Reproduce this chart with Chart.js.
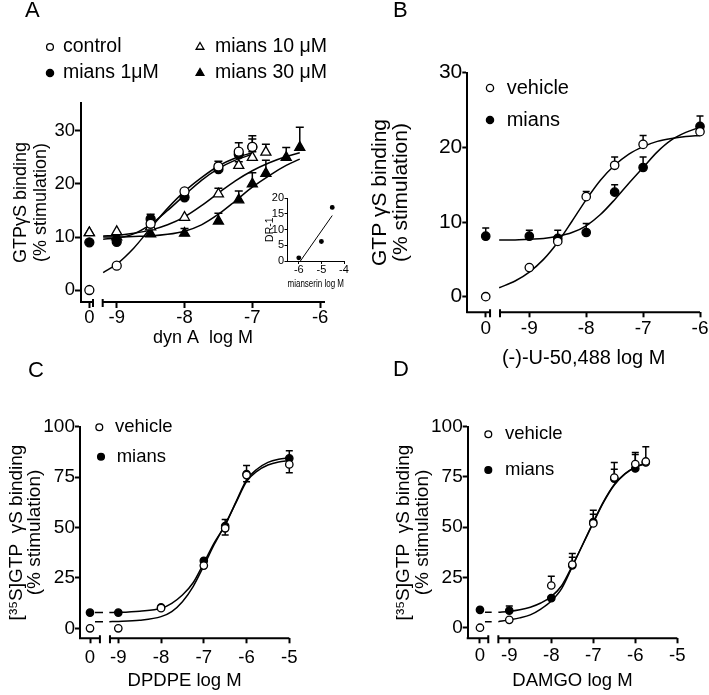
<!DOCTYPE html>
<html>
<head>
<meta charset="utf-8">
<script src="https://cdn.jsdelivr.net/npm/chart.js@4.4.1/dist/chart.umd.min.js"></script>
<style>
  html, body { margin: 0; padding: 0; background: #fff; }
  #fig { position: relative; width: 709px; height: 695px; overflow: hidden; }
  #fig canvas { position: absolute; }
  .lbl { position: absolute; font: 22px Arial, "Liberation Sans", sans-serif; line-height: 22px; color: #000; }
</style>
</head>
<body>
<div id="fig">
  <canvas id="cC" width="355" height="350" style="left:0;top:345px"></canvas>
  <canvas id="cD" width="354" height="350" style="left:355px;top:345px"></canvas>
  <canvas id="cA" width="355" height="355" style="left:0;top:0"></canvas>
  <canvas id="cB" width="354" height="375" style="left:355px;top:0"></canvas>
  <canvas id="cIn" width="115" height="110" style="left:240px;top:185px"></canvas>
  <div class="lbl" style="left:25px;top:-1px">A</div>
  <div class="lbl" style="left:393px;top:-1px">B</div>
  <div class="lbl" style="left:28px;top:359px">C</div>
  <div class="lbl" style="left:393px;top:358px">D</div>
</div>
<script>
// ---- panel A: dynorphin A, mianserin 0/1/10/30 uM ----
const dosesA   = [0, -9, -8.5, -8, -7.5, -7.2, -7];
const dosesA10 = [0, -9, -8.5, -8, -7.5, -7.2, -7, -6.8];
const dosesA30 = [0, -9, -8.5, -8, -7.5, -7.2, -7, -6.8, -6.5, -6.3];
const controlA    = [0, 4.6, 12.5, 18.6, 23.3, 26.1, 27.0];
const controlErrA = [0, 0, 0, 0, 1.0, 1.7, 1.5];
const mians1A     = [9.0, 9.1, 13.4, 17.5, 22.8, 25.6, 27.0];
const mians1ErrA  = [0, 0, 0.9, 0.5, 1.0, 0.8, 2.1];
const mians10A    = [10.8, 11.0, 11.9, 13.7, 18.1, 23.5, 25.0, 26.0];
const mians10ErrA = [0, 0, 0, 0, 1.1, 0.7, 1.1, 1.5];
const mians30A    = [10.8, 10.0, 10.6, 10.7, 13.0, 17.0, 20.0, 22.0, 25.0, 26.9];
const mians30ErrA = [0, 0, 0, 0.9, 1.5, 1.7, 2.1, 2.5, 1.9, 3.8];
const fitXA  = [-9.2, -9, -8.75, -8.5, -8.25, -8, -7.75, -7.5, -7.25, -7];
const fitXA2 = [-9.2, -9, -8.75, -8.5, -8.25, -8, -7.75, -7.5, -7.25, -7, -6.75, -6.5, -6.3];
const fitControlA = [3.3, 4.9, 7.9, 11.7, 15.4, 18.6, 21.2, 23.4, 24.9, 25.9];
const fitMians1A  = [9.6, 9.8, 10.6, 12.4, 15.0, 17.9, 20.7, 22.9, 24.5, 25.6];
const fitMians10A = [10.2, 10.3, 10.7, 11.3, 12.3, 13.8, 15.9, 18.3, 20.6, 22.5, 24.0, 25.2, 25.9];
const fitMians30A = [10.0, 10.0, 10.1, 10.2, 10.5, 11.1, 12.3, 14.3, 16.8, 19.4, 21.6, 23.5, 24.7];

// inset: Schild plot
const insetX  = [-6, -5, -4.52];
const insetDR = [1.0, 6.2, 17.1];
const insetLineX = [-5.93, -4.52];
const insetLineY = [0, 14.5];

// ---- panel B: (-)-U-50,488 ----
const dosesB      = [0, -9, -8.5, -8, -7.5, -7, -6];
const vehicleB    = [0, 3.9, 7.4, 13.4, 17.6, 20.4, 22.1];
const vehicleErrB = [0, 0, 0, 0.7, 1.1, 1.2, 0];
const miansB      = [8.1, 8.1, 7.8, 8.6, 14.0, 17.3, 22.8];
const miansErrB   = [1.1, 0.8, 1.1, 1.2, 1.0, 1.4, 1.4];
const fitXB       = [-9.53, -9.25, -9, -8.75, -8.5, -8.25, -8, -7.75, -7.5, -7.25, -7, -6.75, -6.5, -6.25, -6];
const fitVehicleB = [1.2, 2.1, 3.3, 5.0, 7.3, 10.1, 13.0, 15.6, 17.6, 19.1, 20.1, 20.8, 21.2, 21.45, 21.6];
const fitMiansB   = [7.6, 7.6, 7.7, 7.8, 8.1, 8.6, 9.5, 11.0, 13.0, 15.2, 17.3, 19.4, 21.0, 22.0, 22.7];

// ---- panel C: DPDPE ----
const dosesC      = [0, -9, -8, -7, -6.5, -6, -5];
const vehicleC    = [0, 0, 10.0, 31.1, 49.6, 76.0, 81.3];
const vehicleErrC = [0, 0, 0, 0, 3.3, 3.3, 4.1];   // drawn downwards
const miansC      = [7.8, 7.8, 10.4, 33.5, 50.7, 76.5, 84.3];
const miansErrC   = [0, 0, 0, 0, 3.3, 4.2, 3.8];
const fitXC       = [-9.21, -9, -8.5, -8, -7.75, -7.5, -7.25, -7, -6.75, -6.5, -6.25, -6, -5.75, -5.5, -5.25, -5];
const fitVehicleC = [3.3, 3.4, 4.0, 5.8, 8.3, 13.2, 20.7, 31.0, 41.8, 51.6, 62.2, 72.8, 78.0, 81.0, 82.5, 83.1];
const fitMiansC   = [7.8, 7.9, 8.5, 9.9, 12.4, 16.5, 22.6, 32.4, 42.6, 51.2, 62.6, 73.6, 79.0, 82.3, 83.9, 84.6];
const stubXC      = [-9.545, -9.358];

// ---- panel D: DAMGO ----
const dosesD      = [0, -9, -8, -7.5, -7, -6.5, -6, -5.75];
const vehicleD    = [0, 3.9, 21.0, 31.4, 51.9, 74.7, 81.4, 82.7];
const vehicleErrD = [0, 0, 4.6, 5.5, 6.5, 7.5, 5.8, 7.3];
const miansD      = [8.9, 8.5, 14.7, 31.0, 52.5, 74.2, 79.2, 82.2];
const miansErrD   = [0, 2.3, 1.0, 4.0, 4.0, 4.6, 7.0, 1.0];
const fitXD       = [-9.26, -9, -8.75, -8.5, -8.25, -8, -7.75, -7.5, -7.25, -7, -6.75, -6.5, -6.25, -6, -5.75];
const fitVehicleD = [3.0, 3.9, 4.9, 6.4, 9.3, 13.3, 19.6, 30.4, 41.5, 52.6, 63.0, 71.3, 76.6, 79.9, 81.8];
const fitMiansD   = [7.7, 8.1, 8.9, 10.2, 12.3, 15.5, 21.0, 30.8, 41.4, 52.2, 62.6, 71.0, 76.4, 79.8, 81.8];
const stubXD      = [-9.579, -9.419];

const FONT = 'Arial, "Liberation Sans", Helvetica, sans-serif';
Chart.defaults.font.family = FONT;
Chart.defaults.color = '#000';

// x-axis with a gap between the "0" dose and the log range
const axisBreak = {
  id: 'axisBreak',
  afterDatasetsDraw(chart, args, o) {
    if (!o || !o.at) return;
    const { ctx, chartArea: a, scales: { x } } = chart;
    const y = a.bottom, l = x.getPixelForValue(o.at[0]), r = x.getPixelForValue(o.at[1]);
    ctx.save();
    ctx.strokeStyle = '#000';
    ctx.lineWidth = o.width;
    ctx.beginPath();
    ctx.moveTo(a.left - o.width / 2, y); ctx.lineTo(l, y);
    ctx.moveTo(r, y); ctx.lineTo(a.right, y);
    ctx.moveTo(l, y - 3); ctx.lineTo(l, y + 5);
    ctx.moveTo(r, y - 3); ctx.lineTo(r, y + 5);
    ctx.stroke();
    ctx.restore();
  }
};

// upper / lower SEM whiskers, drawn under the symbols
const errBars = {
  id: 'errBars',
  beforeDatasetsDraw(chart, args, o) {
    const { ctx, scales: { y } } = chart;
    ctx.save();
    ctx.strokeStyle = '#000';
    ctx.lineWidth = 1.5;
    chart.data.datasets.forEach((ds, i) => {
      if (!ds.errUp && !ds.errDown) return;
      chart.getDatasetMeta(i).data.forEach((pt, j) => {
        const v = ds.data[j].y;
        [[ds.errUp, 1], [ds.errDown, -1]].forEach(([arr, s]) => {
          const e = arr && arr[j];
          if (!e) return;
          const yy = y.getPixelForValue(v + s * e);
          ctx.beginPath();
          ctx.moveTo(pt.x, pt.y); ctx.lineTo(pt.x, yy);
          ctx.moveTo(pt.x - o.cap, yy); ctx.lineTo(pt.x + o.cap, yy);
          ctx.stroke();
        });
      });
    });
    ctx.restore();
  }
};

// symbol keys placed where the original figure has them
const keyPlugin = {
  id: 'key',
  afterDatasetsDraw(chart, args, o) {
    if (!o || !o.items) return;
    const ctx = chart.ctx;
    ctx.save();
    ctx.font = o.size + 'px ' + FONT;
    ctx.textBaseline = 'middle';
    ctx.textAlign = 'left';
    o.items.forEach(it => {
      const ds = chart.data.datasets[it.ds];
      ctx.fillStyle = ds.pointBackgroundColor;
      ctx.strokeStyle = '#000';
      ctx.lineWidth = ds.pointBorderWidth;
      Chart.helpers.drawPoint(ctx, { pointStyle: ds.pointStyle, radius: it.r, borderWidth: ds.pointBorderWidth, rotation: 0 }, it.x, it.y);
      ctx.fillStyle = '#000';
      ctx.fillText(ds.label, it.tx, it.y);
    });
    ctx.restore();
  }
};

Chart.register(axisBreak, errBars, keyPlugin);

function pts(doses, vals, zero) {
  return doses.map((d, i) => ({ x: d === 0 ? zero : d, y: vals[i] }));
}
function xy(xs, ys) {
  return xs.map((x, i) => ({ x, y: ys[i] }));
}
function symbols(label, data, style, filled, r, errUp, errDown, order) {
  return {
    label, data, errUp, errDown, order: order === undefined ? 1 : order, showLine: false, clip: false,
    pointStyle: style, pointRadius: r, pointBorderWidth: 1.3,
    pointBackgroundColor: filled ? '#000' : '#fff', pointBorderColor: '#000'
  };
}
function fit(data) {
  return {
    label: '', data, order: 2, showLine: true, pointRadius: 0,
    borderColor: '#000', borderWidth: 1.5, cubicInterpolationMode: 'monotone'
  };
}

function panel(id, g, datasets) {
  return new Chart(document.getElementById(id), {
    type: 'scatter',
    data: { datasets },
    options: {
      responsive: false,
      animation: false,
      events: [],
      layout: { padding: { left: 0, top: g.top, right: g.right, bottom: 0 } },
      plugins: {
        legend: { display: false },
        tooltip: { enabled: false },
        axisBreak: g.brk ? { at: g.brk, width: g.lw } : false,
        errBars: { cap: g.cap || 3.5 },
        key: g.key || false
      },
      scales: {
        x: {
          type: 'linear', min: g.xMin, max: g.xMax,
          afterBuildTicks: s => { s.ticks = g.xTicks.map(v => ({ value: v })); },
          afterFit: s => { s.height = g.xH; s.paddingLeft = 0; s.paddingRight = 0; },
          ticks: {
            autoSkip: false, maxRotation: 0, padding: g.xPad,
            font: { size: g.xFont, lineHeight: 1 },
            callback: v => (g.zero !== undefined && Math.abs(v - g.zero) < 1e-6) ? '0' : String(v)
          },
          grid: { display: true, drawOnChartArea: false, drawTicks: true, tickLength: g.tick, tickWidth: g.lw, tickColor: '#000', color: '#000' },
          border: { display: !g.brk, color: '#000', width: g.lw },
          title: { display: true, text: g.xTitle, font: { size: g.xtFont, lineHeight: 1 }, padding: { top: 0, bottom: g.xtPad } }
        },
        y: {
          type: 'linear', min: g.yMin, max: g.yMax,
          afterBuildTicks: s => { s.ticks = g.yTicks.map(v => ({ value: v })); },
          afterFit: s => { s.width = g.yW; },
          ticks: { padding: g.yPad, font: { size: g.yFont, lineHeight: 1 }, callback: v => String(v) },
          grid: { display: true, drawOnChartArea: false, drawTicks: true, tickLength: g.tick, tickWidth: g.lw, tickColor: '#000', color: '#000' },
          border: { display: true, color: '#000', width: g.lw },
          title: { display: true, text: g.yTitle, font: { size: g.ytFont, lineHeight: g.ytLH }, padding: { top: g.ytPad, bottom: 0 } }
        }
      }
    }
  });
}

// ---- A ----
const zeroA = -9.404;
panel('cA', {
  top: 103, right: 30, yW: 81, xH: 53, lw: 2, tick: 6, cap: 4,
  xMin: -9.527, xMax: -5.928, zero: zeroA, brk: [-9.35, -9.207], xTicks: [zeroA, -9, -8, -7, -6],
  yMin: -2.26, yMax: 35.28, yTicks: [0, 10, 20, 30],
  xFont: 18.5, xPad: 0.5, yFont: 18.5, yPad: 0,
  xTitle: 'dyn A  log M', xtFont: 18, xtPad: 8,
  yTitle: ['GTPγS binding', '(% stimulation)'], ytFont: 18, ytLH: 1.15, ytPad: 10.3,
  key: { size: 19.5, items: [
    { ds: 0, x: 50, y: 47, tx: 63, r: 3.4 },
    { ds: 1, x: 50, y: 73, tx: 63, r: 3.6 },
    { ds: 2, x: 200, y: 47, tx: 215, r: 4.5 },
    { ds: 3, x: 200, y: 73, tx: 215, r: 4.5 }
  ] }
}, [
  symbols('control', pts(dosesA, controlA, zeroA), 'circle', false, 4.5, controlErrA),
  symbols('mians 1\u03bcM', pts(dosesA, mians1A, zeroA), 'circle', true, 4.5, mians1ErrA),
  symbols('mians 10 \u03bcM', pts(dosesA10, mians10A, zeroA), 'triangle', false, 5.8, mians10ErrA),
  symbols('mians 30 \u03bcM', pts(dosesA30, mians30A, zeroA), 'triangle', true, 5.8, mians30ErrA, 0),
  fit(xy(fitXA, fitControlA)),
  fit(xy(fitXA, fitMians1A)),
  fit(xy(fitXA2, fitMians10A)),
  fit(xy(fitXA2, fitMians30A))
]);

// ---- inset ----
panel('cIn', {
  top: 13.3, right: 11, yW: 47.5, xH: 34, lw: 1, tick: 3, cap: 0,
  xMin: -6.5, xMax: -4, xTicks: [-6, -5, -4],
  yMin: 0, yMax: 20, yTicks: [0, 5, 10, 15, 20],
  xFont: 11, xPad: 0, yFont: 11, yPad: 0.5,
  xTitle: 'mianserin log M', xtFont: 11, xtPad: 6,
  yTitle: 'DR-1', ytFont: 10.5, ytLH: 1, ytPad: 24.5
}, [
  symbols('DR-1', xy(insetX, insetDR), 'circle', true, 1.8),
  { label: '', data: xy(insetLineX, insetLineY), order: 2, showLine: true, pointRadius: 0, borderColor: '#000', borderWidth: 1 }
]);

// ---- B ----
const zeroB = -9.766;
panel('cB', {
  top: 72.7, right: 9, yW: 112.3, xH: 62.7, lw: 2, tick: 5, cap: 3.5,
  xMin: -10.09, xMax: -6, zero: zeroB, brk: [-9.69, -9.515], xTicks: [zeroB, -9, -8, -7, -6],
  yMin: -2.09, yMax: 30, yTicks: [0, 10, 20, 30],
  xFont: 19, xPad: 1.5, yFont: 21, yPad: 0,
  xTitle: '(-)-U-50,488 log M', xtFont: 20, xtPad: 7,
  yTitle: ['GTP \u03b3S binding', '(% stimulation)'], ytFont: 21, ytLH: 1.0, ytPad: 14.5,
  key: { size: 20, items: [
    { ds: 0, x: 135, y: 88, tx: 151.7, r: 3.6 },
    { ds: 1, x: 135, y: 120, tx: 151.7, r: 3.6 }
  ] }
}, [
  symbols('vehicle', pts(dosesB, vehicleB, zeroB), 'circle', false, 4.2, vehicleErrB),
  symbols('mians', pts(dosesB, miansB, zeroB), 'circle', true, 4.2, miansErrB),
  fit(xy(fitXB, fitVehicleB)),
  fit(xy(fitXB, fitMiansB))
]);

// ---- C ----
const zeroC = -9.662;
panel('cC', {
  top: 81.7, right: 65.7, yW: 80, xH: 56.7, lw: 2, tick: 5, cap: 3.5,
  xMin: -9.896, xMax: -5, zero: zeroC, brk: [-9.43, -9.195], xTicks: [zeroC, -9, -8, -7, -6, -5],
  yMin: -4.96, yMax: 100, yTicks: [0, 25, 50, 75, 100],
  xFont: 18.6, xPad: 4.9, yFont: 19, yPad: 0,
  xTitle: 'DPDPE log M', xtFont: 18.5, xtPad: 4.75,
  yTitle: ['[\u00b3\u2075S]GTP  \u03b3S binding', '(% stimulation)'], ytFont: 19, ytLH: 0.95, ytPad: 8,
  key: { size: 18.5, items: [
    { ds: 0, x: 99.3, y: 82.3, tx: 115, r: 3.4 },
    { ds: 1, x: 101, y: 111.7, tx: 116.7, r: 3.4 }
  ] }
}, [
  symbols('vehicle', pts(dosesC, vehicleC, zeroC), 'circle', false, 3.7, null, vehicleErrC),
  symbols('mians', pts(dosesC, miansC, zeroC), 'circle', true, 3.7, miansErrC),
  fit(xy(fitXC, fitVehicleC)),
  fit(xy(fitXC, fitMiansC)),
  fit(xy(stubXC, [fitVehicleC[0], fitVehicleC[0]])),
  fit(xy(stubXC, [fitMiansC[0], fitMiansC[0]]))
]);

// ---- D ----
const zeroD = -9.698;
panel('cD', {
  top: 81.7, right: 31.7, yW: 112.7, xH: 56.7, lw: 2, tick: 5, cap: 3.5,
  xMin: -9.99, xMax: -5, zero: zeroD, brk: [-9.5, -9.26], xTicks: [zeroD, -9, -8, -7, -6, -5],
  yMin: -5.27, yMax: 100, yTicks: [0, 25, 50, 75, 100],
  xFont: 18.6, xPad: 3.1, yFont: 19, yPad: 0,
  xTitle: 'DAMGO log M', xtFont: 18.5, xtPad: 4.75,
  yTitle: ['[\u00b3\u2075S]GTP  \u03b3S binding', '(% stimulation)'], ytFont: 19, ytLH: 1.0, ytPad: 39.5,
  key: { size: 18.5, items: [
    { ds: 0, x: 133.3, y: 89.3, tx: 150, r: 3.4 },
    { ds: 1, x: 133.3, y: 125, tx: 150, r: 3.4 }
  ] }
}, [
  symbols('vehicle', pts(dosesD, vehicleD, zeroD), 'circle', false, 3.7, vehicleErrD),
  symbols('mians', pts(dosesD, miansD, zeroD), 'circle', true, 3.7, miansErrD),
  fit(xy(fitXD, fitVehicleD)),
  fit(xy(fitXD, fitMiansD)),
  fit(xy(stubXD, [fitVehicleD[0], fitVehicleD[0]])),
  fit(xy(stubXD, [fitMiansD[0], fitMiansD[0]]))
]);
</script>
</body>
</html>
